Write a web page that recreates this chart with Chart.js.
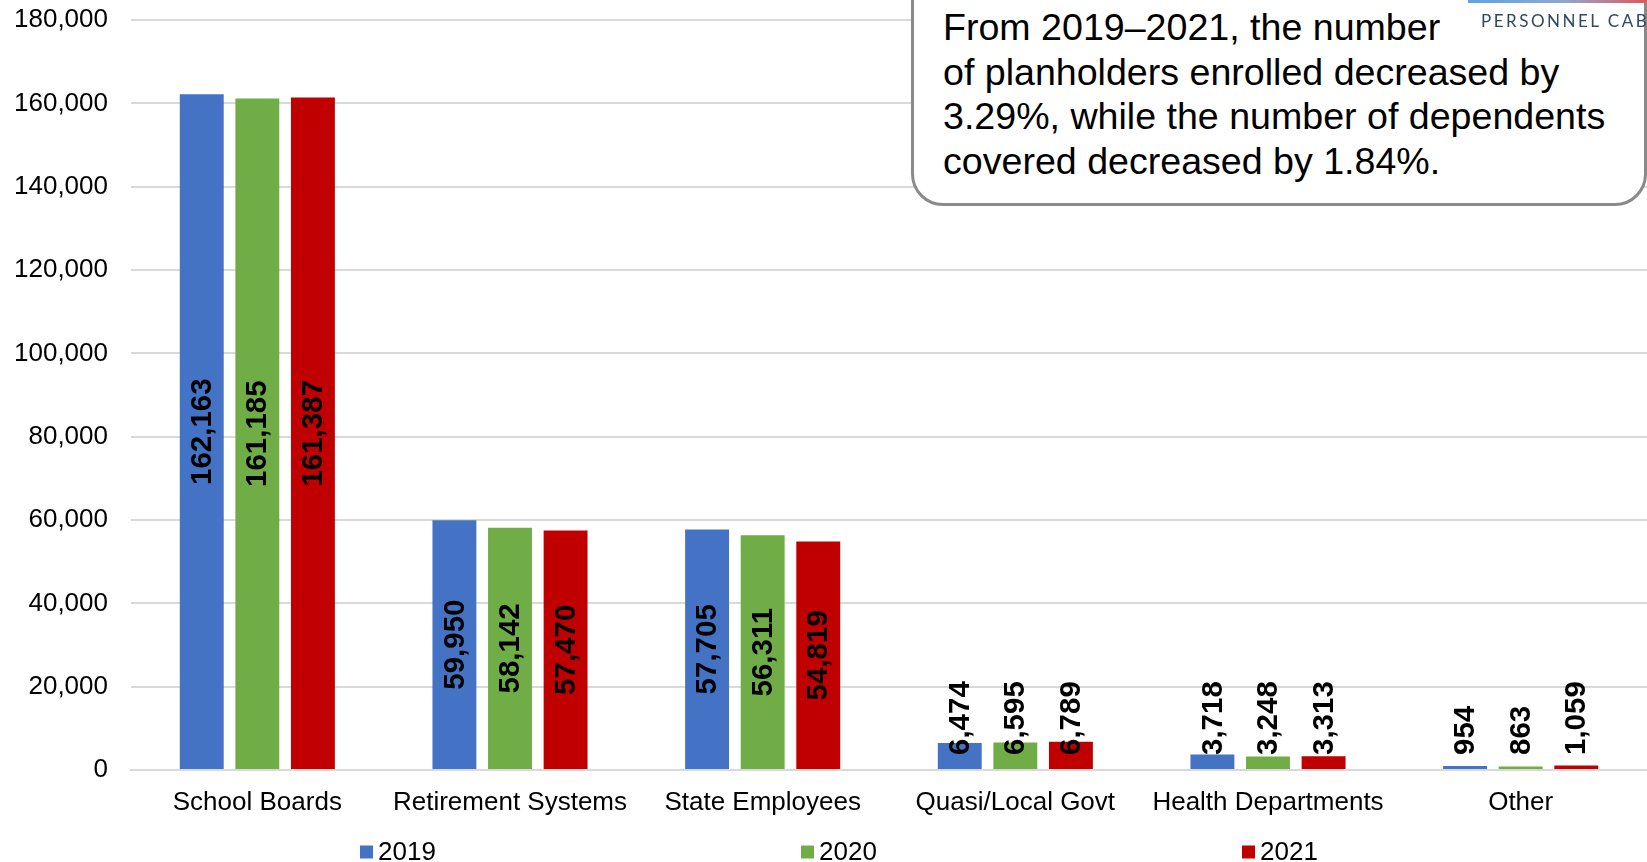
<!DOCTYPE html>
<html>
<head>
<meta charset="utf-8">
<script src="https://cdn.jsdelivr.net/npm/chart.js@4/dist/chart.umd.min.js"></script>
<style>
  body { margin: 0; background: #fff; font-family: "Liberation Sans", Arial, sans-serif; }
  #wrap { position: relative; width: 1647px; height: 862px; overflow: hidden; }
  #note {
    position: absolute; left: 911px; top: -40px; width: 736px; height: 246px;
    box-sizing: border-box; border: 3px solid #8a8a8a; border-radius: 32px;
    background: #fff; padding: 42px 0 0 29px;
    font-size: 37.6px; line-height: 44.7px; color: #000; white-space: nowrap;
  }
  #logo-bar {
    position: absolute; left: 1468px; top: 0; width: 179px; height: 3px;
    background: linear-gradient(to right, #5da4e3, #8fa7d0 55%, #e0575a);
  }
  #logo-text {
    position: absolute; left: 1481px; top: 10px; white-space: nowrap;
    font-family: Lato, "Open Sans", sans-serif; font-size: 17px; letter-spacing: 2.5px;
    color: #2d4b5f;
  }
</style>
</head>
<body>
<div id="wrap">
  <canvas id="chart"></canvas>
  <div id="note">From 2019–2021, the number<br>of planholders enrolled decreased by<br>3.29%, while the number of dependents<br>covered decreased by 1.84%.</div>
  <div id="logo-bar"></div>
  <div id="logo-text">PERSONNEL CABINET</div>
</div>
<script>
const categories = ['School Boards', 'Retirement Systems', 'State Employees', 'Quasi/Local Govt', 'Health Departments', 'Other'];
const years = ['2019', '2020', '2021'];
const values2019 = [162163, 59950, 57705, 6474, 3718, 954];
const values2020 = [161185, 58142, 56311, 6595, 3248, 863];
const values2021 = [161387, 57470, 54819, 6789, 3313, 1059];
const yearColors = ['#4472C4', '#70AD47', '#C00000'];

const fmt = v => v.toLocaleString('en-US');

Chart.defaults.font.family = '"Liberation Sans", Arial, sans-serif';
Chart.defaults.color = '#000';

// rotated value labels, centred in the bar but kept clear of the axis
const valueLabels = {
  id: 'valueLabels',
  afterDatasetsDraw(chart) {
    const ctx = chart.ctx;
    ctx.save();
    ctx.font = 'bold 29.5px "Liberation Sans", Arial, sans-serif';
    ctx.fillStyle = '#000';
    ctx.textAlign = 'center';
    ctx.textBaseline = 'middle';
    chart.data.datasets.forEach((ds, i) => {
      chart.getDatasetMeta(i).data.forEach((bar, j) => {
        const text = fmt(ds.data[j]);
        const w = ctx.measureText(text).width;
        const cy = Math.min((bar.y + bar.base) / 2, bar.base - 14 - w / 2);
        ctx.save();
        ctx.translate(bar.x, cy);
        ctx.rotate(-Math.PI / 2);
        ctx.fillText(text, 0, 1);
        ctx.restore();
      });
    });
    ctx.restore();
  }
};

// wide-spaced legend along the bottom
const bottomLegend = {
  id: 'bottomLegend',
  afterDraw(chart) {
    const ctx = chart.ctx;
    const y = 852, startX = 360, step = 441, box = 13;
    ctx.save();
    ctx.font = '26px "Liberation Sans", Arial, sans-serif';
    ctx.textBaseline = 'middle';
    ctx.textAlign = 'left';
    chart.data.datasets.forEach((ds, i) => {
      const x = startX + i * step;
      ctx.fillStyle = ds.backgroundColor;
      ctx.fillRect(x, y - box / 2, box, box);
      ctx.fillStyle = '#000';
      ctx.fillText(ds.label, x + 18, y + 1);
    });
    ctx.restore();
  }
};

const ctx = document.getElementById('chart').getContext('2d');
new Chart(ctx, {
  type: 'bar',
  data: {
    labels: categories,
    datasets: [values2019, values2020, values2021].map((d, i) => ({
      label: years[i],
      data: d,
      backgroundColor: yearColors[i],
      borderWidth: 0,
      barPercentage: 0.79,
      categoryPercentage: 0.66
    }))
  },
  options: {
    responsive: true,
    maintainAspectRatio: false,
    animation: false,
    layout: { padding: { top: 20, right: 0, bottom: 30, left: 0 } },
    plugins: {
      legend: { display: false },
      tooltip: { enabled: false }
    },
    scales: {
      x: {
        grid: { display: false },
        border: { display: true, color: '#d9d9d9', width: 2 },
        ticks: { font: { size: 26 }, padding: 9, maxRotation: 0, autoSkip: false },
        afterFit: s => { s.height = 62; }
      },
      y: {
        min: 0,
        max: 180000,
        grid: { color: '#d9d9d9', lineWidth: 2, drawTicks: false },
        border: { display: false },
        ticks: { stepSize: 20000, font: { size: 26 }, padding: 23, callback: v => fmt(v) },
        afterFit: s => {
          s.width = 131;
          s.paddingTop = 0;
          s.paddingBottom = 0;
        }
      }
    }
  },
  plugins: [valueLabels, bottomLegend]
});
</script>
</body>
</html>
